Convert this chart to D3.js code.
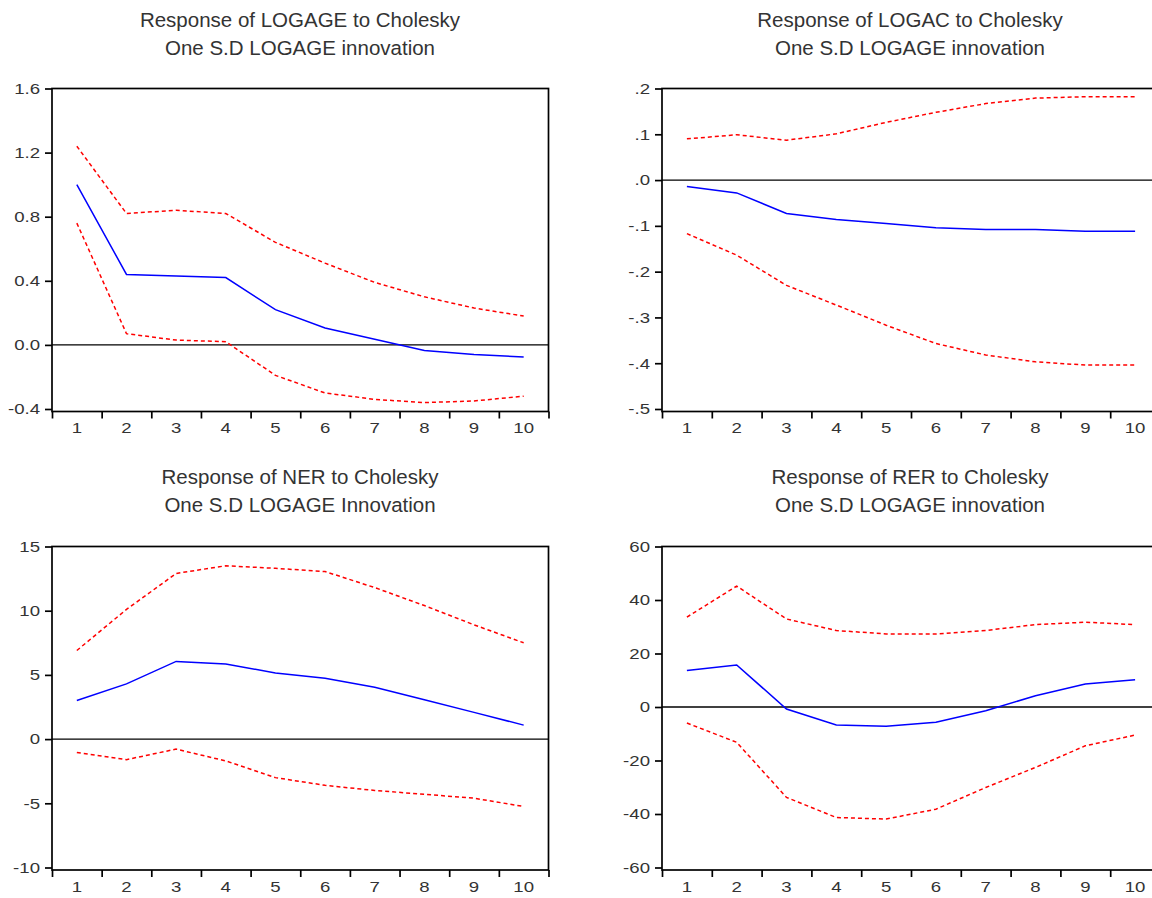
<!DOCTYPE html>
<html>
<head>
<meta charset="utf-8">
<script src="https://d3js.org/d3.v7.min.js"></script>
<style>
  body { margin: 0; background: #fff; }
  text { font-family: "Liberation Sans", Arial, sans-serif; fill: #333; }
</style>
</head>
<body>
<svg id="chart" width="1152" height="898"></svg>
<script>
// periods after the shock
var periods = [1, 2, 3, 4, 5, 6, 7, 8, 9, 10];

// Response of LOGAGE
var logageResp  = [1.00, 0.44, 0.43, 0.42, 0.22, 0.105, 0.035, -0.035, -0.06, -0.075];
var logageUpper = [1.24, 0.82, 0.84, 0.82, 0.64, 0.51, 0.39, 0.30, 0.23, 0.18];
var logageLower = [0.76, 0.07, 0.03, 0.02, -0.19, -0.30, -0.34, -0.36, -0.35, -0.32];
var logageTicks = [-0.4, 0.0, 0.4, 0.8, 1.2, 1.6];
var logageTickLabels = ["-0.4", "0.0", "0.4", "0.8", "1.2", "1.6"];

// Response of LOGAC
var logacResp  = [-0.014, -0.028, -0.073, -0.086, -0.095, -0.104, -0.108, -0.108, -0.112, -0.112];
var logacUpper = [0.090, 0.099, 0.087, 0.101, 0.126, 0.148, 0.167, 0.179, 0.182, 0.182];
var logacLower = [-0.117, -0.164, -0.230, -0.273, -0.317, -0.357, -0.382, -0.397, -0.404, -0.404];
var logacTicks = [-0.5, -0.4, -0.3, -0.2, -0.1, 0.0, 0.1, 0.2];
var logacTickLabels = ["-.5", "-.4", "-.3", "-.2", "-.1", ".0", ".1", ".2"];

// Response of NER
var nerResp  = [3.0, 4.3, 6.05, 5.85, 5.15, 4.73, 4.03, 3.07, 2.08, 1.09];
var nerUpper = [6.9, 10.1, 12.9, 13.5, 13.3, 13.05, 11.8, 10.4, 8.9, 7.5];
var nerLower = [-1.04, -1.6, -0.78, -1.7, -3.0, -3.6, -4.0, -4.3, -4.6, -5.25];
var nerTicks = [-10, -5, 0, 5, 10, 15];
var nerTickLabels = ["-10", "-5", "0", "5", "10", "15"];

// Response of RER
var rerResp  = [13.6, 15.7, -0.75, -6.7, -7.2, -5.7, -1.4, 4.2, 8.6, 10.2];
var rerUpper = [33.6, 45.2, 32.9, 28.6, 27.3, 27.3, 28.6, 30.8, 31.7, 30.8];
var rerLower = [-6.0, -13.2, -33.8, -41.3, -41.9, -38.2, -30.1, -22.6, -14.5, -10.5];
var rerTicks = [-60, -40, -20, 0, 20, 40, 60];
var rerTickLabels = ["-60", "-40", "-20", "0", "20", "40", "60"];

var panels = [
  { title: ["Response of LOGAGE to Cholesky", "One S.D LOGAGE innovation"],
    resp: logageResp, upper: logageUpper, lower: logageLower,
    ticks: logageTicks, labels: logageTickLabels,
    left: 52, right: 548.5, top: 88.5, bottom: 411.5, cx: 300, ty: 27 },
  { title: ["Response of LOGAC to Cholesky", "One S.D LOGAGE innovation"],
    resp: logacResp, upper: logacUpper, lower: logacLower,
    ticks: logacTicks, labels: logacTickLabels,
    left: 662, right: 1160, top: 88.5, bottom: 411.5, cx: 910, ty: 27 },
  { title: ["Response of NER to Cholesky", "One S.D LOGAGE Innovation"],
    resp: nerResp, upper: nerUpper, lower: nerLower,
    ticks: nerTicks, labels: nerTickLabels,
    left: 52, right: 548.5, top: 546.5, bottom: 870, cx: 300, ty: 484 },
  { title: ["Response of RER to Cholesky", "One S.D LOGAGE innovation"],
    resp: rerResp, upper: rerUpper, lower: rerLower,
    ticks: rerTicks, labels: rerTickLabels,
    left: 662, right: 1160, top: 546.5, bottom: 870, cx: 910, ty: 484 }
];

var svg = d3.select("#chart");

// the source graph is a little wider than tall, so widen the glyphs
function stretch(sel, k) {
  sel.each(function() {
    var w = this.getComputedTextLength();
    this.setAttribute("textLength", w * k);
    this.setAttribute("lengthAdjust", "spacingAndGlyphs");
  });
}

panels.forEach(function(p) {
  var g = svg.append("g");

  var x = d3.scaleBand().domain(periods).range([p.left, p.right]);
  var xEdge = d3.scaleLinear().domain([0.5, 10.5]).range([p.left, p.right]);
  var y = d3.scaleLinear()
      .domain([d3.min(p.ticks), d3.max(p.ticks)])
      .range([p.bottom - 2.5, p.top]);

  // titles
  g.selectAll(".title")
    .data(p.title)
    .enter().append("text")
      .attr("class", "title")
      .attr("x", p.cx)
      .attr("y", function(d, i) { return p.ty + i * 28; })
      .attr("text-anchor", "middle")
      .style("font-size", "20.5px")
      .text(function(d) { return d; });

  // frame
  g.append("rect")
      .attr("x", p.left)
      .attr("y", p.top)
      .attr("width", p.right - p.left)
      .attr("height", p.bottom - p.top)
      .attr("fill", "none")
      .attr("stroke", "#000")
      .attr("stroke-width", 1.7);

  // zero line
  g.append("line")
      .attr("x1", p.left).attr("x2", p.right)
      .attr("y1", y(0)).attr("y2", y(0))
      .attr("stroke", "#000")
      .attr("stroke-width", 1.3);

  // y axis
  var ya = g.append("g")
      .attr("transform", "translate(" + p.left + ",0)")
      .call(d3.axisLeft(y).tickValues(p.ticks)
        .tickFormat(function(d, i) { return p.labels[i]; })
        .tickSize(7).tickPadding(5));
  ya.select(".domain").remove();

  // x tick marks at the band edges
  var xt = g.append("g")
      .attr("transform", "translate(0," + p.bottom + ")")
      .call(d3.axisBottom(xEdge).tickValues(d3.range(0.5, 11, 1))
        .tickFormat("").tickSize(7));
  xt.select(".domain").remove();

  // x labels at the band centers
  var xl = g.append("g")
      .attr("transform", "translate(0," + p.bottom + ")")
      .call(d3.axisBottom(x).tickSize(0).tickPadding(11));
  xl.select(".domain").remove();

  g.selectAll(".tick line").attr("stroke", "#000").attr("stroke-width", 1.7);
  g.selectAll(".tick text").style("font-size", "15px").attr("fill", "#333")
      .call(stretch, 1.24);

  var line = d3.line()
      .x(function(d, i) { return x(periods[i]) + x.bandwidth() / 2; })
      .y(function(d) { return y(d); });

  [p.upper, p.lower].forEach(function(s) {
    g.append("path")
        .datum(s)
        .attr("d", line)
        .attr("fill", "none")
        .attr("stroke", "#ff0000")
        .attr("stroke-width", 1.5)
        .attr("stroke-dasharray", "4,3");
  });

  g.append("path")
      .datum(p.resp)
      .attr("d", line)
      .attr("fill", "none")
      .attr("stroke", "#0000ff")
      .attr("stroke-width", 1.5);
});
</script>
</body>
</html>
